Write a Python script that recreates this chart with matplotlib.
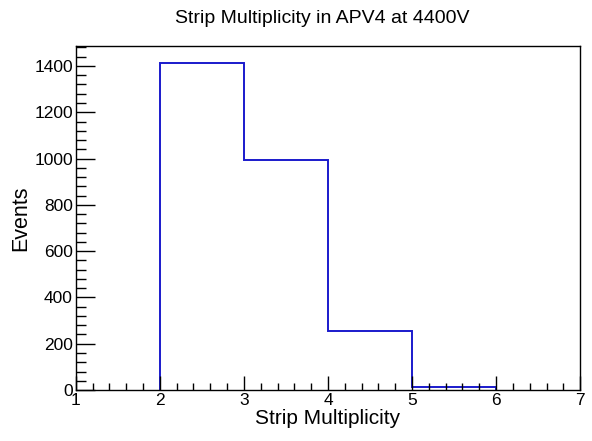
import matplotlib.pyplot as plt
import numpy as np

plt.rcParams['font.family'] = ['Liberation Sans', 'DejaVu Sans']

# bin edges and counts
edges = [2, 3, 4, 5, 6]
counts = [1413, 994, 255, 15]

fig = plt.figure(figsize=(5.92, 4.41), dpi=100)
ax = fig.add_axes([0.128, 0.1156, 0.852, 0.78])

ax.stairs(counts, edges, color='#1a1acc', linewidth=1.4, baseline=0)

ax.set_xlim(1, 7)
ax.set_ylim(0, 1486)
ax.set_xticks(np.arange(1, 8))
ax.set_xticks(np.arange(1, 7.01, 0.2), minor=True)
ax.set_yticks(np.arange(0, 1401, 200))
ax.set_yticks(np.arange(0, 1481, 40), minor=True)

ax.tick_params(axis='both', which='both', direction='in', labelsize=12.5, width=1.0)
ax.tick_params(axis='y', which='major', length=14, pad=2)
ax.tick_params(axis='y', which='minor', length=7)
ax.tick_params(axis='x', which='major', length=10, pad=2)
ax.tick_params(axis='x', which='minor', length=5)
for s in ax.spines.values():
    s.set_linewidth(1.0)

ax.set_xlabel('Strip Multiplicity', fontsize=15, labelpad=1)
ax.set_ylabel('Events', fontsize=15.5, labelpad=2)
fig.text(0.545, 0.958, 'Strip Multiplicity in APV4 at 4400V', ha='center', va='center', fontsize=14)

fig.savefig('out.png', dpi=100)
